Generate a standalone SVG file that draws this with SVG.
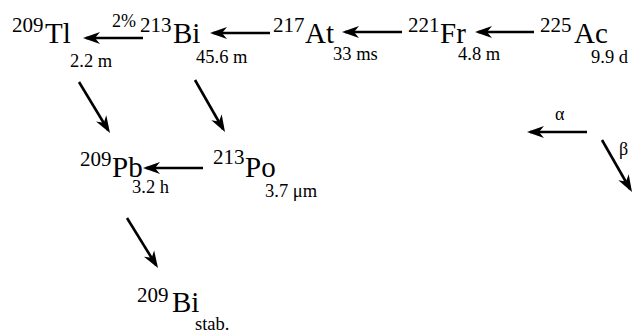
<svg xmlns="http://www.w3.org/2000/svg" width="635" height="333" viewBox="0 0 635 333">
<style>
.el,.sup,.hl,.pct,.gr{font-family:'Liberation Serif','Times New Roman',serif;fill:#000}
.el{font-size:29px}
.sup{font-size:21px}
.hl{font-size:18.5px}
.pct{font-size:18px}
.gr{font-size:18px}
.ln{stroke:#000;stroke-width:2.6;fill:none}
.hd{fill:#000}
</style>
<defs>
<path id="head" d="M0,0 L-17,-6 L-12,0 L-17,6 Z"/>
</defs>
<rect width="635" height="333" fill="#fff"/>
<g id="Ac225">
<text class="sup" font-family="Liberation Serif" x="540" y="32">225</text><text class="el" font-family="Liberation Serif" x="574" y="43">Ac</text>
<text class="hl" font-family="Liberation Serif" x="591" y="63">9.9 d</text>
</g>
<g id="Fr221">
<text class="sup" font-family="Liberation Serif" x="408" y="32">221</text><text class="el" font-family="Liberation Serif" x="440" y="43">Fr</text>
<text class="hl" font-family="Liberation Serif" x="458" y="60">4.8 m</text>
</g>
<g id="At217">
<text class="sup" font-family="Liberation Serif" x="273" y="32">217</text><text class="el" font-family="Liberation Serif" x="305" y="43">At</text>
<text class="hl" font-family="Liberation Serif" x="333" y="60">33 ms</text>
</g>
<g id="Bi213">
<text class="sup" font-family="Liberation Serif" x="140" y="32">213</text><text class="el" font-family="Liberation Serif" x="173" y="43">Bi</text>
<text class="hl" font-family="Liberation Serif" x="196" y="63">45.6 m</text>
</g>
<g id="Tl209">
<text class="sup" font-family="Liberation Serif" x="12" y="32">209</text><text class="el" font-family="Liberation Serif" x="45" y="43">Tl</text>
<text class="hl" font-family="Liberation Serif" x="70" y="67">2.2 m</text>
</g>
<g id="Po213">
<text class="sup" font-family="Liberation Serif" x="213" y="164">213</text><text class="el" font-family="Liberation Serif" x="245" y="177">Po</text>
<text class="hl" font-family="Liberation Serif" x="265" y="197">3.7 &#956;m</text>
</g>
<g id="Pb209">
<text class="sup" font-family="Liberation Serif" x="80" y="166">209</text><text class="el" font-family="Liberation Serif" x="112" y="177">Pb</text>
<text class="hl" font-family="Liberation Serif" x="132" y="193">3.2 h</text>
</g>
<g id="Bi209">
<text class="sup" font-family="Liberation Serif" x="137" y="302">209</text><text class="el" font-family="Liberation Serif" x="172" y="312">Bi</text>
<text class="hl" font-family="Liberation Serif" x="195" y="330">stab.</text>
</g>
<g id="legend">
<text class="gr" font-family="Liberation Serif" x="555" y="120">&#945;</text>
<text class="gr" font-family="Liberation Serif" x="619" y="155">&#946;</text>
</g>
<g id="connectors">
<line class="ln" x1="534" y1="32" x2="478" y2="32"/>
<use class="hd" href="#head" transform="translate(475,32) rotate(180)"/>
<line class="ln" x1="402" y1="32" x2="345" y2="32"/>
<use class="hd" href="#head" transform="translate(342,32) rotate(180)"/>
<line class="ln" x1="270" y1="33" x2="213" y2="33"/>
<use class="hd" href="#head" transform="translate(210,33) rotate(180)"/>
<line class="ln" x1="143" y1="38" x2="86" y2="38"/>
<use class="hd" href="#head" transform="translate(83,38) rotate(180)"/>
<text class="pct" font-family="Liberation Serif" x="112" y="27">2%</text>
<line class="ln" x1="79" y1="82" x2="108" y2="130"/>
<use class="hd" href="#head" transform="translate(110,133) rotate(58.7)"/>
<line class="ln" x1="195" y1="80" x2="223" y2="129"/>
<use class="hd" href="#head" transform="translate(225,132) rotate(60)"/>
<line class="ln" x1="203" y1="168" x2="146" y2="168"/>
<use class="hd" href="#head" transform="translate(143,168) rotate(180)"/>
<line class="ln" x1="127" y1="218" x2="156" y2="265"/>
<use class="hd" href="#head" transform="translate(158,268) rotate(58.2)"/>
<line class="ln" x1="587" y1="132" x2="530" y2="132"/>
<use class="hd" href="#head" transform="translate(527,132) rotate(180)"/>
<line class="ln" x1="602" y1="140" x2="630" y2="189"/>
<use class="hd" href="#head" transform="translate(632,192) rotate(60)"/>
</g>
</svg>
